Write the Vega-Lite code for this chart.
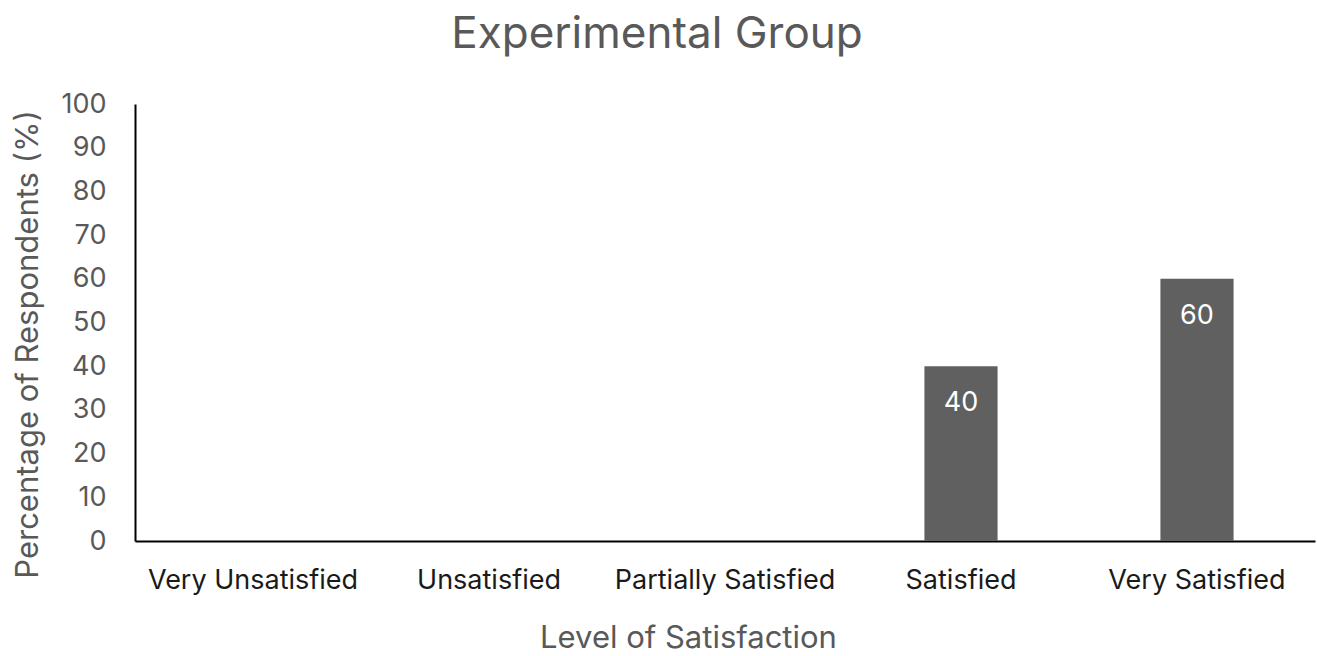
{
  "$schema": "https://vega.github.io/schema/vega-lite/v6.json",
  "autosize": "none",
  "width": 1180,
  "height": 437,
  "padding": {"left": 135, "top": 104, "right": 2, "bottom": 115},
  "background": "white",
  "config": {"view": {"stroke": null}, "font": "Inter"},
  "title": {
    "text": "Experimental Group",
    "fontSize": 44,
    "font": "Inter",
    "fontWeight": "normal",
    "color": "#595959",
    "anchor": "middle",
    "frame": "group",
    "dx": -68,
    "offset": 33
  },
  "data": {
    "values": [
      {"level": "Very Unsatisfied", "pct": 0},
      {"level": "Unsatisfied", "pct": 0},
      {"level": "Partially Satisfied", "pct": 0},
      {"level": "Satisfied", "pct": 40},
      {"level": "Very Satisfied", "pct": 60}
    ]
  },
  "encoding": {
    "x": {
      "field": "level",
      "type": "nominal",
      "sort": null,
      "scale": {"paddingInner": 0.69, "paddingOuter": 0.345},
      "axis": {
        "title": "Level of Satisfaction",
        "labelAngle": 0,
        "labelFontSize": 27,
        "labelLimit": 0,
        "labelColor": "#1a1a1a",
        "labelPadding": 26,
        "ticks": false,
        "domainColor": "#000000",
        "domainWidth": 2,
        "titleFontSize": 31,
        "titleFontWeight": "normal",
        "titleColor": "#595959",
        "titleBaseline": "middle",
        "titleX": 553,
        "titleY": 97
      }
    },
    "y": {
      "field": "pct",
      "type": "quantitative",
      "scale": {"domain": [0, 100]},
      "axis": {
        "title": "Percentage of Respondents (%)",
        "values": [0, 10, 20, 30, 40, 50, 60, 70, 80, 90, 100],
        "grid": false,
        "ticks": false,
        "labelFontSize": 27,
        "labelColor": "#595959",
        "labelPadding": 29,
        "domainColor": "#000000",
        "domainWidth": 2,
        "titleFontSize": 31,
        "titleFontWeight": "normal",
        "titleColor": "#595959",
        "titleBaseline": "middle",
        "titleX": -107,
        "titleY": 240
      }
    }
  },
  "layer": [
    {"mark": {"type": "bar", "color": "#606060"}},
    {
      "transform": [{"filter": "datum.pct > 0"}],
      "mark": {"type": "text", "color": "white", "fontSize": 27, "baseline": "middle", "dy": 37},
      "encoding": {"text": {"field": "pct", "type": "quantitative"}}
    }
  ]
}
